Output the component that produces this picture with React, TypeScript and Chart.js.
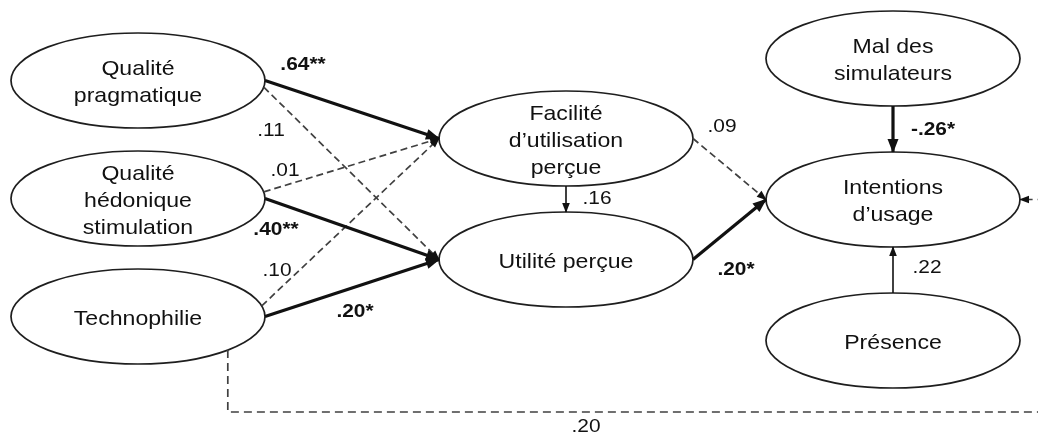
import React, { useEffect, useRef } from 'react';
import { Chart, registerables } from 'chart.js';
Chart.register(...registerables);

// ---- Data ----
const nodeLabels: string[][] = [
  ['Qualité', 'pragmatique'],
  ['Qualité', 'hédonique', 'stimulation'],
  ['Technophilie'],
  ['Facilité', 'd’utilisation', 'perçue'],
  ['Utilité perçue'],
  ['Mal des', 'simulateurs'],
  ['Intentions', 'd’usage'],
  ['Présence'],
];
const nodeX = [138, 138, 138, 566, 566, 893, 893, 893];
const nodeY = [80.5, 198.5, 316.5, 138.5, 259.5, 58.5, 199.5, 340.5];

const pathFrom = [0, 0, 1, 1, 2, 2, 3, 3, 4, 5, 7, 2];
const pathTo = [3, 4, 3, 4, 3, 4, 4, 6, 6, 6, 6, 6];
const pathCoef = ['.64**', '.11', '.01', '.40**', '.10', '.20*', '.16', '.09', '.20*', '-.26*', '.22', '.20'];
const pathSignificant = [true, false, false, true, false, true, false, false, true, true, false, false];
const pathDashed = [false, true, true, false, true, false, false, true, false, false, false, true];

// ---- Layout (anchor angles on ellipses, label placement) ----
const srcAngle = [0, 8, -8, 0, -13, 0, 90, 0, 0, 90, 270, 45];
const dstAngle = [180, 180, 180, 180, 180, 180, 270, 180, 180, 270, 90, 0];
const labelX = [303, 271, 285, 276, 277, 355, 597, 722, 736, 933, 927, 586];
const labelY = [65, 131, 171, 230, 271, 312, 199, 127, 270, 130, 268, 427];
const routeY = 412; // detour level for the last path
const routeX = 1065;

const RX = 127;
const RY = 47.5;
const FONT = "'Liberation Sans', Arial, sans-serif";
const SX = 1.1;

function ellPt(i: number, deg: number) {
  const a = (deg * Math.PI) / 180;
  return { x: nodeX[i] + RX * Math.cos(a), y: nodeY[i] + RY * Math.sin(a) };
}

function edgePoints(k: number) {
  const s = ellPt(pathFrom[k], srcAngle[k]);
  const t = ellPt(pathTo[k], dstAngle[k]);
  if (k === pathFrom.length - 1) {
    return [s, { x: s.x, y: routeY }, { x: routeX, y: routeY }, { x: routeX, y: t.y }, t];
  }
  return [s, t];
}

function drawText(ctx: CanvasRenderingContext2D, t: string, x: number, y: number) {
  ctx.save();
  ctx.translate(x, y);
  ctx.scale(SX, 1);
  ctx.fillText(t, 0, 0);
  ctx.restore();
}

const diagramPlugin = {
  id: 'diagram',
  beforeDatasetsDraw(chart: any) {
    const { ctx, scales } = chart;
    const xs = scales.x, ys = scales.y;
    ctx.save();
    for (let i = 0; i < nodeX.length; i++) {
      const cx = xs.getPixelForValue(nodeX[i]);
      const cy = ys.getPixelForValue(nodeY[i]);
      const rx = Math.abs(xs.getPixelForValue(nodeX[i] + RX) - cx);
      const ry = Math.abs(ys.getPixelForValue(nodeY[i] + RY) - cy);
      ctx.beginPath();
      ctx.ellipse(cx, cy, rx, ry, 0, 0, Math.PI * 2);
      ctx.fillStyle = '#ffffff';
      ctx.fill();
      ctx.lineWidth = 1.7;
      ctx.strokeStyle = '#1e1e1e';
      ctx.stroke();
    }
    ctx.restore();
  },
  afterDatasetsDraw(chart: any) {
    const { ctx, scales } = chart;
    const xs = scales.x, ys = scales.y;
    ctx.save();
    // arrowheads
    for (let k = 0; k < pathFrom.length; k++) {
      const pts = edgePoints(k);
      const a = pts[pts.length - 2];
      const b = pts[pts.length - 1];
      const ax = xs.getPixelForValue(a.x), ay = ys.getPixelForValue(a.y);
      const bx = xs.getPixelForValue(b.x), by = ys.getPixelForValue(b.y);
      const ang = Math.atan2(by - ay, bx - ax);
      const L = pathSignificant[k] ? 13 : 9;
      const W = pathSignificant[k] ? 5.5 : 3.8;
      ctx.beginPath();
      ctx.moveTo(bx + Math.cos(ang), by + Math.sin(ang));
      ctx.lineTo(bx - L * Math.cos(ang) + W * Math.sin(ang), by - L * Math.sin(ang) - W * Math.cos(ang));
      ctx.lineTo(bx - L * Math.cos(ang) - W * Math.sin(ang), by - L * Math.sin(ang) + W * Math.cos(ang));
      ctx.closePath();
      ctx.fillStyle = '#111';
      ctx.fill();
    }
    // node labels
    ctx.fillStyle = '#111';
    ctx.textAlign = 'center';
    ctx.textBaseline = 'alphabetic';
    ctx.font = `21px ${FONT}`;
    const LH = 27;
    for (let i = 0; i < nodeX.length; i++) {
      const cx = xs.getPixelForValue(nodeX[i]);
      const cy = ys.getPixelForValue(nodeY[i]);
      const lines = nodeLabels[i];
      lines.forEach((t, j) => {
        const y = cy + (j - (lines.length - 1) / 2) * LH + 8;
        drawText(ctx, t, cx, y);
      });
    }
    // coefficient labels
    ctx.textBaseline = 'middle';
    for (let k = 0; k < pathCoef.length; k++) {
      ctx.font = `${pathSignificant[k] ? 'bold ' : ''}19px ${FONT}`;
      drawText(ctx, pathCoef[k], xs.getPixelForValue(labelX[k]), ys.getPixelForValue(labelY[k]));
    }
    ctx.restore();
  },
};

export default function App() {
  const ref = useRef<HTMLCanvasElement | null>(null);
  useEffect(() => {
    document.body.style.margin = '0';
    const canvas = ref.current;
    if (!canvas) return;
    const datasets = pathFrom.map((_, k) => ({
      label: pathCoef[k],
      data: edgePoints(k),
      showLine: true,
      pointRadius: 0,
      borderColor: pathDashed[k] ? '#404040' : '#111',
      borderWidth: pathSignificant[k] ? 3.2 : pathDashed[k] ? 1.7 : 1.6,
      borderDash: pathDashed[k] ? (k === pathFrom.length - 1 ? [8, 5] : [7, 4]) : [],
      fill: false,
      tension: 0,
    }));
    const chart = new Chart(canvas, {
      type: 'scatter',
      data: { datasets },
      options: {
        animation: false,
        responsive: false,
        devicePixelRatio: 1,
        layout: { padding: 0 },
        plugins: { legend: { display: false }, tooltip: { enabled: false } },
        scales: {
          x: { type: 'linear', min: 0, max: 1038, display: false },
          y: { type: 'linear', min: 0, max: 436, reverse: true, display: false },
        },
      },
      plugins: [diagramPlugin],
    } as any);
    return () => chart.destroy();
  }, []);
  return (
    <div style={{ width: 1038, height: 436, background: '#fff' }}>
      <canvas ref={ref} width={1038} height={436} />
    </div>
  );
}
